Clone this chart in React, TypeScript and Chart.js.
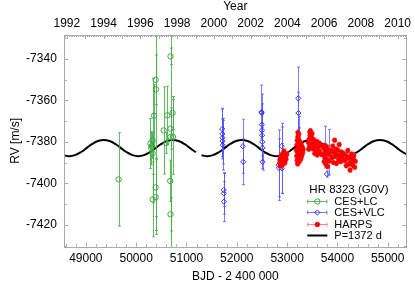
import React, { useEffect, useRef } from 'react';
import { Chart, registerables } from 'chart.js';
Chart.register(...registerables);

const FONT = "'Liberation Sans', Arial, sans-serif";

// axis ranges
const JD_MIN = 48572;
const JD_MAX = 55369;
const RV_MIN = -7430.5;
const RV_MAX = -7328.5;
const JD_STEP = 1000;
const YEAR_STEP = 2;
const RV_STEP = 20;

// CES+LC
const lcJD = [49651, 50283, 50300, 50310, 50328, 50328, 50328, 50356, 50387, 50395, 50387, 50387, 50545, 50599, 50618, 50683, 50683, 50683, 50731, 50723, 50677, 50683];
const lcRV = [-7398.1, -7380.8, -7383.0, -7382.0, -7379.4, -7385.6, -7407.7, -7367.4, -7350.1, -7354.7, -7401.9, -7406.6, -7374.5, -7380.5, -7367.2, -7338.8, -7373.6, -7377.6, -7377.6, -7366.1, -7398.8, -7414.9];
const lcErr = [22.5, 12, 8, 6, 30, 10, 18, 15, 12, 68, 14, 18, 21, 5, 14, 4, 10, 60, 18, 8, 10, 8];

// CES+VLC
const vlcJD = [51710, 51712, 51715, 51718, 51720, 51740, 51742, 51745, 52120, 52128, 52490, 52494, 52497, 52500, 52503, 52506, 52509, 52512, 52829, 52835, 52890, 52893, 52896, 53220, 53224, 53228, 53232, 53750, 53790, 53840];
const vlcRV = [-7373.8, -7376.2, -7378.0, -7379.6, -7381.6, -7403.2, -7404.8, -7408.8, -7382.1, -7389.6, -7365.6, -7366.0, -7371.7, -7374.4, -7376.8, -7380.0, -7382.9, -7389.6, -7391.2, -7392.5, -7382.1, -7388.8, -7392.8, -7359.0, -7366.1, -7375.7, -7379.2, -7382.5, -7395.5, -7385.0];
const vlcErr = [10, 12, 9, 11, 12, 8, 10, 9.6, 13, 11, 13, 9, 10, 9, 10, 9, 10, 4, 17, 14, 11, 16, 12, 15, 10, 8, 6, 10, 1.5, 11];

// HARPS
const harpsJD = [
  52852, 52856, 52861, 52866, 52872, 52877, 52883, 52889, 52895, 52902, 52910, 52918, 52927, 52936, 52945, 52956, 52968, 52980, 52992,
  53186, 53190, 53194, 53198, 53201, 53205, 53208, 53212, 53214, 53215, 53219, 53222, 53226, 53229, 53230, 53233, 53236, 53240, 53244, 53248, 53252, 53256, 53261, 53266, 53272, 53278, 53285, 53292, 53300, 53309, 53318,
  53420, 53428, 53436, 53444, 53450, 53456, 53462, 53470, 53478, 53486, 53495, 53505, 53515, 53525, 53536, 53548, 53560, 53572, 53585, 53598, 53612, 53628, 53645, 53662, 53678,
  53720, 53728, 53736, 53744, 53752, 53760, 53768, 53776, 53785, 53794, 53803, 53812, 53822, 53834, 53846,
  53880, 53892, 53905, 53918, 53930, 53942, 53955, 53968, 53980, 53993, 54006, 54020, 54034, 54048, 54062, 54078, 54095, 54110,
  54145, 54160, 54175, 54190, 54205, 54220, 54235, 54250, 54265, 54280, 54295, 54310, 54325, 54340, 54355
];
const harpsRV = [
  -7390.2, -7388.5, -7391.6, -7389.0, -7387.3, -7390.8, -7388.0, -7386.2, -7389.6, -7391.2, -7387.8, -7385.6, -7389.3, -7384.4, -7388.7, -7390.1, -7386.9, -7388.3, -7385.9,
  -7384.2, -7386.8, -7381.5, -7388.9, -7379.3, -7383.7, -7390.6, -7377.6, -7375.5, -7385.4, -7381.0, -7387.7, -7378.8, -7383.2, -7376.4, -7380.4, -7386.1, -7382.3, -7389.4, -7379.9, -7384.8, -7381.7, -7386.9, -7383.0, -7388.1, -7380.8, -7384.5, -7386.6, -7382.4, -7385.2, -7383.6,
  -7380.2, -7383.5, -7378.6, -7381.9, -7375.2, -7376.8, -7374.6, -7377.3, -7375.9, -7378.2, -7376.1, -7380.7, -7383.4, -7379.0, -7382.2, -7385.6, -7381.0, -7384.1, -7379.8, -7386.3, -7382.7, -7380.5, -7384.6, -7381.8, -7386.0,
  -7386.4, -7383.1, -7389.5, -7381.7, -7387.9, -7384.6, -7390.8, -7385.3, -7382.4, -7388.6, -7391.9, -7386.0, -7383.8, -7389.2, -7385.7,
  -7384.3, -7387.6, -7382.0, -7389.9, -7385.1, -7379.2, -7387.0, -7383.5, -7390.4, -7386.2, -7384.0, -7388.7, -7381.3, -7386.8, -7389.5, -7384.9, -7387.4, -7385.5,
  -7389.1, -7386.3, -7391.5, -7388.0, -7384.2, -7390.7, -7387.5, -7393.6, -7389.8, -7385.9, -7391.0, -7388.4, -7386.7, -7392.2, -7389.3
];
const HARPS_ERR = 1.0;

// Keplerian fit P=1372 d (null = gap in the drawn line)
const curveJD = [48555.7, 48670, 48784.3, 48898.7, 49013, 49127.3, 49241.7, 49356, 49470.3, 49584.7, 49699, 49813.3, 49927.7, 50042, 50156.3, 50270.7, 50385, 50499.3, 50613.7, 50728, 50842.3, 50956.7, 51071, 51185.3, 51240, 51299.7, 51414, 51528.3, 51642.7, 51757, 51871.3, 51985.7, 52100, 52214.3, 52328.7, 52443, 52557.3, 52671.7, 52786, 52900.3, 53014.7, 53129, 53243.3, 53357.7, 53472, 53586.3, 53700.7, 53815, 53929.3, 54043.7, 54158, 54272.3, 54386.7, 54501, 54615.3, 54729.7, 54844, 54958.3, 55072.7, 55187, 55301.3, 55415.7];
const curveRV = [-7386.4, -7386.9, -7386.4, -7385.0, -7383.0, -7381.0, -7379.6, -7379.1, -7379.6, -7381.0, -7383.0, -7385.0, -7386.4, -7386.9, -7386.4, -7385.0, -7383.0, -7381.0, -7379.6, -7379.1, -7379.6, -7381.0, -7383.0, -7385.0, null, -7386.4, -7386.9, -7386.4, -7385.0, -7383.0, -7381.0, -7379.6, -7379.1, -7379.6, -7381.0, -7383.0, -7385.0, -7386.4, -7386.9, -7386.4, -7385.0, -7383.0, -7381.0, -7379.6, -7379.1, -7379.6, -7381.0, -7383.0, -7385.0, -7386.4, -7386.9, -7386.4, -7385.0, -7383.0, -7381.0, -7379.6, -7379.1, -7379.6, -7381.0, -7383.0, -7385.0, -7386.4];

const seriesLabels = ['CES+LC', 'CES+VLC', 'HARPS', 'P=1372 d'];
const legendTitle = 'HR 8323 (G0V)';
const xTitle = 'BJD - 2 400 000';
const x2Title = 'Year';
const yTitle = 'RV [m/s]';

const toYear = (jd: number) => 1992 + (jd - 48622.5) / 365.25;

const GREEN = '#3fa53f';
const GREEN_BAR = 'rgba(70,175,70,0.85)';
const BLUE = '#3535ff';
const BLUE_BAR = 'rgba(80,80,255,0.75)';
const RED = '#ff0000';
const RED_BAR = 'rgba(255,120,120,0.9)';
const FRAME = '#a9a9a9';

const stepTicks = (step: number) => (s: any) => {
  const out: any[] = [];
  for (let i = Math.ceil(s.min / step); i * step <= s.max; i++) out.push({ value: i * step });
  s.ticks = out;
};

const errorBarPlugin = {
  id: 'errorBars',
  beforeDatasetDraw(chart: any, args: any) {
    const ds = chart.data.datasets[args.index];
    if (!ds.errors) return;
    const { ctx, chartArea } = chart;
    const xs = chart.scales.x;
    const ys = chart.scales.y;
    ctx.save();
    ctx.beginPath();
    ctx.rect(chartArea.left, chartArea.top, chartArea.right - chartArea.left, chartArea.bottom - chartArea.top);
    ctx.clip();
    ctx.strokeStyle = ds.barColor;
    ctx.lineWidth = 1;
    ds.data.forEach((p: any, i: number) => {
      const e = ds.errors[i];
      const px = Math.round(xs.getPixelForValue(p.x)) + 0.5;
      const y1 = ys.getPixelForValue(p.y + e);
      const y2 = ys.getPixelForValue(p.y - e);
      ctx.beginPath();
      ctx.moveTo(px, y1);
      ctx.lineTo(px, y2);
      ctx.moveTo(px - 1.5, y1);
      ctx.lineTo(px + 1.5, y1);
      ctx.moveTo(px - 1.5, y2);
      ctx.lineTo(px + 1.5, y2);
      ctx.stroke();
    });
    ctx.restore();
  },
};

const frameLegendPlugin = {
  id: 'frameLegend',
  afterDraw(chart: any) {
    const { ctx, chartArea } = chart;
    const { left, right, top, bottom } = chartArea;
    const xs = chart.scales.x;
    const x2 = chart.scales.x2;
    const ys = chart.scales.y;
    ctx.save();
    ctx.strokeStyle = FRAME;
    ctx.lineWidth = 1;
    ctx.strokeRect(Math.round(left) + 0.5, Math.round(top) + 0.5, Math.round(right - left), Math.round(bottom - top));
    ctx.beginPath();
    // bottom ticks every 200 d
    for (let v = Math.ceil(xs.min / 200) * 200; v <= xs.max; v += 200) {
      const px = Math.round(xs.getPixelForValue(v)) + 0.5;
      const len = v % 1000 === 0 ? 4 : 2.5;
      ctx.moveTo(px, bottom);
      ctx.lineTo(px, bottom - len);
    }
    // top ticks every 0.1 yr
    for (let i = Math.ceil(x2.min * 10); i <= Math.floor(x2.max * 10); i++) {
      const px = Math.round(x2.getPixelForValue(i / 10)) + 0.5;
      const len = i % 10 === 0 ? 4 : 2;
      ctx.moveTo(px, top);
      ctx.lineTo(px, top + len);
    }
    // left/right ticks every 10
    for (let v = Math.ceil(ys.min / 10) * 10; v <= ys.max; v += 10) {
      const py = Math.round(ys.getPixelForValue(v)) + 0.5;
      const len = v % 20 === 0 ? 4 : 2.5;
      ctx.moveTo(left, py);
      ctx.lineTo(left + len, py);
      ctx.moveTo(right, py);
      ctx.lineTo(right - len, py);
    }
    ctx.stroke();

    // legend
    const ds = chart.data.datasets;
    const symL = right - 99;
    const symR = right - 79;
    const symC = (symL + symR) / 2;
    const textX = right - 72;
    ctx.fillStyle = '#000';
    ctx.textBaseline = 'middle';
    ctx.textAlign = 'left';
    ctx.font = `11.5px ${FONT}`;
    ctx.fillText(legendTitle, right - 97, bottom - 56.5);
    ctx.font = `11px ${FONT}`;
    const rowY = [bottom - 45.5, bottom - 34.3, bottom - 23, bottom - 11.7];
    ds.forEach((d: any) => {
      const idx = seriesLabels.indexOf(d.label);
      if (idx < 0) return;
      const yy = Math.round(rowY[idx]) + 0.5;
      ctx.lineWidth = d.errors ? 1 : 2;
      ctx.strokeStyle = d.errors ? d.barColor : d.borderColor;
      ctx.beginPath();
      ctx.moveTo(symL, yy);
      ctx.lineTo(symR, yy);
      if (d.errors) {
        ctx.moveTo(symL + 0.5, yy - 2);
        ctx.lineTo(symL + 0.5, yy + 2);
        ctx.moveTo(symR - 0.5, yy - 2);
        ctx.lineTo(symR - 0.5, yy + 2);
      }
      ctx.stroke();
      if (d.errors) {
        ctx.lineWidth = 1;
        ctx.strokeStyle = d.borderColor;
        ctx.fillStyle = d.backgroundColor;
        const r = d.pointRadius;
        ctx.beginPath();
        if (d.pointStyle === 'rectRot') {
          ctx.moveTo(symC, yy - r);
          ctx.lineTo(symC + r, yy);
          ctx.lineTo(symC, yy + r);
          ctx.lineTo(symC - r, yy);
          ctx.closePath();
        } else {
          ctx.arc(symC, yy, r, 0, Math.PI * 2);
        }
        ctx.fill();
        ctx.stroke();
      }
      ctx.fillStyle = '#000';
      ctx.fillText(d.label, textX, yy);
    });
    ctx.restore();
  },
};

export default function App() {
  const ref = useRef<HTMLCanvasElement | null>(null);
  useEffect(() => {
    if (!ref.current) return;
    const tickFont = { family: FONT, size: 12 };
    const titleFont = { family: FONT, size: 12, lineHeight: 1 };
    const noGrid = { display: false, drawTicks: false, tickLength: 0 };
    const chart = new Chart(ref.current, {
      type: 'scatter',
      data: {
        datasets: [
          {
            type: 'scatter',
            label: seriesLabels[2],
            data: harpsJD.map((x, i) => ({ x, y: harpsRV[i] })),
            errors: harpsJD.map(() => HARPS_ERR),
            barColor: RED_BAR,
            pointStyle: 'circle',
            pointRadius: 2.3,
            borderColor: RED,
            backgroundColor: RED,
            borderWidth: 0.5,
            order: 0,
          } as any,
          {
            type: 'scatter',
            label: seriesLabels[1],
            data: vlcJD.map((x, i) => ({ x, y: vlcRV[i] })),
            errors: vlcErr,
            barColor: BLUE_BAR,
            pointStyle: 'rectRot',
            pointRadius: 2.6,
            borderColor: BLUE,
            backgroundColor: 'rgba(255,255,255,0)',
            borderWidth: 1,
            order: 1,
          } as any,
          {
            type: 'scatter',
            label: seriesLabels[0],
            data: lcJD.map((x, i) => ({ x, y: lcRV[i] })),
            errors: lcErr,
            barColor: GREEN_BAR,
            pointStyle: 'circle',
            pointRadius: 2.7,
            borderColor: GREEN,
            backgroundColor: 'rgba(255,255,255,0)',
            borderWidth: 1,
            order: 2,
          } as any,
          {
            type: 'line',
            label: seriesLabels[3],
            data: curveJD.map((x, i) => ({ x, y: curveRV[i] })),
            borderColor: '#000',
            backgroundColor: '#000',
            borderWidth: 2,
            pointRadius: 0,
            tension: 0.4,
            spanGaps: false,
            fill: false,
            order: 3,
          } as any,
        ],
      },
      options: {
        animation: false,
        responsive: true,
        maintainAspectRatio: false,
        layout: { padding: { left: 0, right: 6.3, top: 0, bottom: 0 } },
        plugins: { legend: { display: false }, tooltip: { enabled: false } },
        scales: {
          x: {
            type: 'linear',
            position: 'bottom',
            min: JD_MIN,
            max: JD_MAX,
            grid: noGrid,
            border: { display: false },
            ticks: {
              autoSkip: false,
              maxRotation: 0,
              padding: 5,
              color: '#000',
              font: tickFont,
              callback: (v: any) => String(v),
            },
            afterBuildTicks: stepTicks(JD_STEP),
            title: { display: true, text: xTitle, color: '#000', font: titleFont, padding: { top: 0, bottom: 0 } },
            afterFit: (s: any) => { s.height = 36.3; },
          },
          x2: {
            type: 'linear',
            position: 'top',
            min: toYear(JD_MIN),
            max: toYear(JD_MAX),
            grid: noGrid,
            border: { display: false },
            ticks: {
              autoSkip: false,
              maxRotation: 0,
              padding: 3.8,
              color: '#000',
              font: tickFont,
              callback: (v: any) => String(v),
            },
            afterBuildTicks: stepTicks(YEAR_STEP),
            title: { display: true, text: x2Title, color: '#000', font: titleFont, padding: { top: 1, bottom: 0 } },
            afterFit: (s: any) => { s.height = 35; },
          },
          y: {
            type: 'linear',
            position: 'left',
            min: RV_MIN,
            max: RV_MAX,
            grid: noGrid,
            border: { display: false },
            ticks: {
              padding: 7.5,
              color: '#000',
              font: tickFont,
              callback: (v: any) => String(v),
            },
            afterBuildTicks: stepTicks(RV_STEP),
            title: { display: true, text: yTitle, color: '#000', font: titleFont, padding: { top: 10, bottom: 0 } },
            afterFit: (s: any) => { s.width = 64.3; },
          },
        },
      } as any,
      plugins: [errorBarPlugin, frameLegendPlugin],
    });
    return () => chart.destroy();
  }, []);
  return (
    <div style={{ position: 'fixed', left: 0, top: 0, width: 415, height: 283 }}>
      <canvas ref={ref} />
    </div>
  );
}
